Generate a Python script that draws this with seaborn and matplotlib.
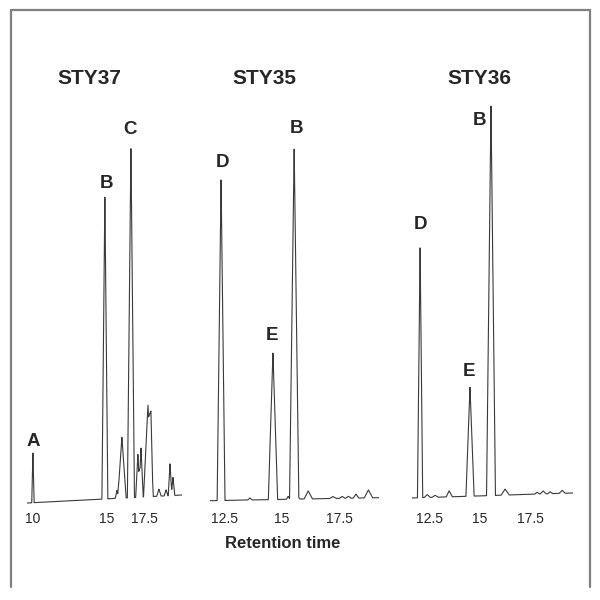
import numpy as np
import pandas as pd
import matplotlib
matplotlib.use("Agg")
import matplotlib.pyplot as plt
from matplotlib.lines import Line2D
import seaborn as sns

sns.set_style("white")
plt.rcParams['font.family'] = ['Liberation Sans', 'DejaVu Sans']

# ---- data: retention time (min), peak height (a.u.), half width (min) ----
titles = ["STY37", "STY35", "STY36"]

# STY37
rt_37 = [10.0, 14.86, 15.68, 16.01, 16.62, 17.09, 17.30, 17.77, 17.97, 18.51, 18.99, 19.26, 19.46]
h_37 = [50, 302, 8, 61, 350, 43, 49, 92, 55, 7, 6, 32, 18]
w_37 = [0.08, 0.2, 0.12, 0.28, 0.24, 0.15, 0.15, 0.3, 0.16, 0.15, 0.12, 0.12, 0.12]
lab_37 = ["A", "B", "", "", "C", "", "", "", "", "", "", "", ""]
range_37 = (9.6, 20.07)
drift_37 = (0, 8)

# STY35
rt_35 = [12.35, 13.6, 14.6, 15.26, 15.52, 15.7, 16.13, 17.2, 17.6, 17.87, 18.2, 18.74]
h_35 = [321, 2, 147, 3, 351, 2, 8, 2, 2, 2, 4, 8]
w_35 = [0.17, 0.1, 0.2, 0.08, 0.2, 0.08, 0.18, 0.15, 0.12, 0.12, 0.12, 0.18]
lab_35 = ["D", "", "E", "", "B", "", "", "", "", "", "", ""]
range_35 = (11.87, 19.2)
drift_35 = (2.3, 5.3)

# STY36
rt_36 = [12.03, 12.38, 12.77, 13.47, 14.5, 15.54, 16.24, 17.82, 18.12, 18.47, 19.06]
h_36 = [251, 3, 2, 6, 109, 390, 6, 2, 3, 2, 3]
w_36 = [0.13, 0.15, 0.15, 0.15, 0.2, 0.22, 0.2, 0.12, 0.15, 0.12, 0.15]
lab_36 = ["D", "", "", "", "E", "B", "", "", "", "", ""]
range_36 = (11.63, 19.6)
drift_36 = (5, 10)

tick_vals = [[10, 15, 17.5], [12.5, 15, 17.5], [12.5, 15, 17.5]]
tick_labels = [["10", "15", "17.5"], ["12.5", "15", "17.5"], ["12.5", "15", "17.5"]]

panels = [
    (rt_37, h_37, w_37, lab_37, range_37, drift_37),
    (rt_35, h_35, w_35, lab_35, range_35, drift_35),
    (rt_36, h_36, w_36, lab_36, range_36, drift_36),
]

# label offsets (points) for the lettered peaks, in drawing order
label_offsets = {
    0: [(0, 8), (1, 10), (-1, 13)],
    1: [(1, 12), (-1, 12), (2, 14)],
    2: [(0, 16), (-1, 11), (-8, -11)],
}

# axes rectangles in pixels (left, right) on the 600 px canvas
ax_px = [(27, 182), (210, 379), (412, 573)]
title_x = [89, 264, 479]

fig = plt.figure(figsize=(6, 6), dpi=100)
fig.patch.set_facecolor("white")

for i, (rt, hh, ww, labs, (x0, x1), (d0, d1)) in enumerate(panels):
    left, right = ax_px[i]
    ax = fig.add_axes([left / 600, 1 - 505 / 600, (right - left) / 600, 410 / 600])

    t = np.linspace(x0, x1, 4000)
    base = d0 + (d1 - d0) * (t - x0) / (x1 - x0)
    sig = base.copy()
    for r, h, w in zip(rt, hh, ww):
        sig += h * np.clip(1 - np.abs(t - r) / w, 0, None)
    df = pd.DataFrame({"t": t, "signal": sig})
    sns.lineplot(data=df, x="t", y="signal", ax=ax, color="#3a3a3a",
                 linewidth=0.8, sort=False, estimator=None)

    k = 0
    for r, h, lab in zip(rt, hh, labs):
        if not lab:
            continue
        b = d0 + (d1 - d0) * (r - x0) / (x1 - x0)
        dx, dy = label_offsets[i][k]
        ax.annotate(lab, (r, b + h), xytext=(dx, dy), textcoords="offset points",
                    ha="center", va="center", fontsize=13.5, fontweight="bold")
        k += 1

    ax.set_xlim(x0, x1)
    ax.set_ylim(-2, 408)
    ax.set_xticks(tick_vals[i])
    ax.set_xticklabels(tick_labels[i], fontsize=10,
                       family=['Liberation Sans Narrow', 'Liberation Sans', 'DejaVu Sans'])
    ax.tick_params(axis="x", length=0, pad=5)
    ax.set_yticks([])
    ax.set_xlabel("")
    ax.set_ylabel("")
    sns.despine(ax=ax, left=True, bottom=True)
    ax.patch.set_alpha(0)

    fig.text(title_x[i] / 600, 1 - 78 / 600, titles[i], ha="center", va="center",
             fontsize=15, fontweight="bold")

fig.text(283 / 600, 1 - 543 / 600, "Retention time", ha="center", va="center",
         fontsize=12, fontweight="bold")

# outer frame (open at the bottom)
fc = "#808080"
fig.add_artist(Line2D([11 / 600, 11 / 600], [1 - 587 / 600, 1 - 10 / 600], color=fc, lw=1.6))
fig.add_artist(Line2D([11 / 600, 590 / 600], [1 - 10 / 600, 1 - 10 / 600], color=fc, lw=1.6))
fig.add_artist(Line2D([590 / 600, 590 / 600], [1 - 10 / 600, 1 - 587 / 600], color=fc, lw=1.6))

fig.savefig("out.png", dpi=100, facecolor="white")
